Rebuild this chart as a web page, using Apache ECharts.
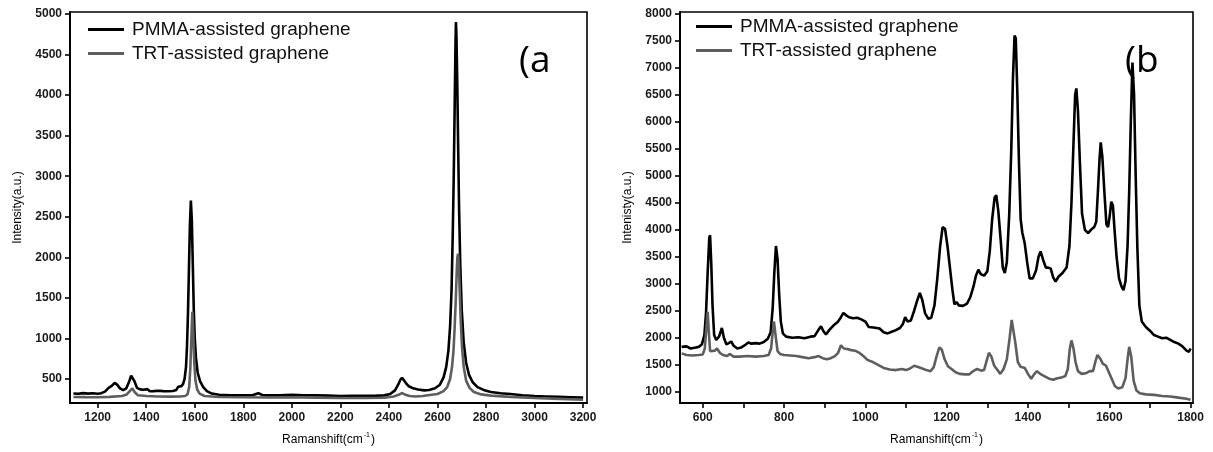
<!DOCTYPE html>
<html>
<head>
<meta charset="utf-8">
<script src="https://cdn.jsdelivr.net/npm/echarts@6/dist/echarts.min.js"></script>
<style>
html,body{margin:0;padding:0;background:#fff;}
#chart{width:1213px;height:452px;}
</style>
</head>
<body>
<div id="chart"></div>
<script>
// ---------- DATA ----------
const seriesNames = ['PMMA-assisted graphene', 'TRT-assisted graphene'];
const panelLabels = ['(a', '(b'];
const xTicksA = [1200, 1400, 1600, 1800, 2000, 2200, 2400, 2600, 2800, 3000, 3200];
const yTicksA = [500, 1000, 1500, 2000, 2500, 3000, 3500, 4000, 4500, 5000];
const xTicksB = [600, 700, 800, 900, 1000, 1100, 1200, 1300, 1400, 1500, 1600, 1700, 1800];
const xLabelsB = [600, 800, 1000, 1200, 1400, 1600, 1800];
const yTicksB = [1000, 1500, 2000, 2500, 3000, 3500, 4000, 4500, 5000, 5500, 6000, 6500, 7000, 7500, 8000];

// Panel (a): PMMA (black)
const pmmaA = [
[1100,322],[1120,318],[1140,326],[1160,320],[1180,324],[1200,318],[1215,325],[1230,345],[1245,390],[1258,415],
[1270,452],[1280,430],[1292,385],[1305,362],[1318,385],[1330,470],[1338,540],[1344,548],[1352,470],[1362,390],
[1375,372],[1390,368],[1405,375],[1415,348],[1430,350],[1450,355],[1470,350],[1490,348],[1510,352],[1524,365],
[1532,405],[1545,412],[1552,440],[1558,500],[1564,650],[1568,900],[1572,1300],[1576,1850],[1580,2400],[1584,2700],
[1588,2450],[1592,1900],[1596,1350],[1600,1000],[1605,760],[1612,580],[1622,470],[1635,400],[1650,350],[1670,320],
[1700,305],[1750,300],[1800,298],[1840,302],[1862,325],[1878,303],[1900,298],[1950,300],[2000,305],[2050,300],
[2100,298],[2150,295],[2200,290],[2250,294],[2300,292],[2350,295],[2380,298],[2405,315],[2425,360],[2438,430],
[2447,490],[2454,516],[2460,500],[2470,450],[2482,410],[2500,385],[2520,370],[2545,360],[2565,365],[2590,385],
[2610,430],[2625,520],[2636,650],[2645,850],[2652,1150],[2658,1600],[2663,2300],[2667,3000],[2671,3900],[2674,4600],
[2676,4900],[2678,4750],[2681,4250],[2685,3400],[2689,2600],[2694,1900],[2700,1350],[2708,950],[2718,700],[2730,550],
[2745,460],[2765,400],[2790,365],[2820,340],[2860,325],[2900,315],[2950,300],[3000,290],[3050,285],[3100,280],
[3150,275],[3200,270]
];
// Panel (a): TRT (grey)
const trtA = [
[1100,278],[1150,276],[1200,275],[1250,280],[1300,290],[1320,310],[1335,360],[1343,385],[1352,340],[1365,300],
[1400,290],[1450,285],[1500,282],[1540,285],[1560,290],[1570,310],[1577,400],[1582,650],[1586,1000],[1590,1330],
[1594,1050],[1598,700],[1603,480],[1610,370],[1620,320],[1640,290],[1700,278],[1800,275],[1900,272],[2000,275],
[2100,270],[2200,265],[2300,265],[2380,268],[2420,285],[2440,305],[2453,327],[2465,310],[2485,290],[2510,285],
[2540,290],[2560,300],[2600,315],[2625,350],[2640,400],[2652,500],[2660,650],[2666,850],[2671,1150],[2675,1450],
[2679,1800],[2682,2000],[2685,2045],[2688,1900],[2692,1550],[2696,1200],[2701,900],[2708,650],[2718,480],[2732,390],
[2750,340],[2780,310],[2820,295],[2900,280],[3000,265],[3100,255],[3200,245]
];

// Panel (b): PMMA (black)
const pmmaB = [
[548,1830],[560,1840],[570,1800],[580,1815],[590,1830],[598,1880],[604,2050],[608,2450],[612,3200],[616,3850],
[618,3900],[621,3350],[624,2600],[628,2050],[633,1960],[640,2020],[647,2180],[652,2000],[658,1880],[664,1900],
[670,1930],[676,1850],[685,1800],[695,1820],[705,1870],[712,1910],[720,1890],[730,1900],[740,1890],[750,1920],
[760,1980],[767,2100],[772,2550],[776,3200],[780,3700],[784,3450],[788,2800],[792,2300],[797,2080],[805,2020],
[820,2000],[835,2010],[850,1990],[865,2020],[875,2030],[885,2150],[891,2210],[897,2120],[903,2060],[912,2150],
[922,2230],[932,2290],[940,2380],[946,2460],[952,2420],[960,2380],[970,2360],[980,2370],[990,2340],[1000,2300],
[1008,2200],[1020,2190],[1035,2170],[1045,2100],[1055,2080],[1065,2110],[1075,2140],[1085,2180],[1092,2250],[1098,2380],
[1104,2300],[1112,2320],[1120,2500],[1128,2700],[1134,2830],[1140,2700],[1147,2450],[1155,2350],[1162,2370],[1170,2600],
[1177,3100],[1184,3700],[1190,4050],[1196,4020],[1202,3700],[1208,3300],[1214,2900],[1219,2620],[1224,2660],[1230,2600],
[1240,2590],[1250,2630],[1258,2750],[1266,2950],[1272,3150],[1278,3260],[1284,3180],[1292,3150],[1300,3230],[1306,3600],
[1312,4200],[1318,4600],[1322,4640],[1327,4350],[1333,3800],[1338,3300],[1343,3200],[1348,3400],[1354,4300],[1359,5500],
[1363,6800],[1367,7600],[1370,7550],[1374,6500],[1378,5200],[1382,4200],[1386,3950],[1392,3750],[1398,3400],[1404,3100],
[1412,3100],[1420,3250],[1426,3500],[1431,3600],[1437,3450],[1444,3300],[1450,3300],[1456,3280],[1462,3120],[1468,3040],
[1475,3130],[1485,3200],[1495,3300],[1502,3700],[1507,4500],[1512,5600],[1516,6500],[1519,6620],[1523,6200],[1528,5200],
[1533,4300],[1540,4000],[1548,3940],[1555,4000],[1563,4050],[1568,4150],[1572,4700],[1576,5300],[1579,5620],[1583,5350],
[1588,4700],[1593,4100],[1597,4050],[1601,4250],[1605,4520],[1609,4450],[1613,4000],[1618,3500],[1624,3100],[1630,2950],
[1635,2880],[1640,3050],[1645,3700],[1649,4700],[1653,6000],[1657,7100],[1661,6500],[1665,5000],[1669,3700],[1674,2600],
[1680,2300],[1690,2200],[1700,2130],[1710,2050],[1720,2020],[1730,1990],[1740,2000],[1750,1960],[1760,1920],[1770,1890],
[1780,1840],[1790,1760],[1796,1740],[1800,1800]
];
// Panel (b): TRT (grey)
const trtB = [
[548,1710],[560,1680],[575,1670],[590,1680],[600,1690],[605,1800],[609,2200],[612,2480],[615,2100],[618,1750],
[622,1720],[630,1760],[635,1800],[642,1720],[650,1680],[660,1660],[667,1700],[675,1650],[690,1650],[710,1660],
[730,1650],[750,1660],[762,1680],[768,1800],[772,2100],[775,2300],[779,2050],[784,1750],[790,1700],[800,1680],
[815,1670],[830,1660],[845,1640],[860,1620],[875,1640],[885,1660],[895,1620],[905,1600],[915,1620],[925,1660],
[933,1720],[940,1860],[947,1800],[955,1790],[965,1770],[975,1760],[985,1720],[995,1660],[1005,1590],[1015,1560],
[1030,1500],[1045,1440],[1060,1410],[1075,1400],[1090,1420],[1100,1400],[1110,1430],[1120,1480],[1128,1460],[1140,1430],
[1150,1400],[1160,1380],[1168,1450],[1175,1650],[1182,1820],[1188,1780],[1195,1600],[1203,1470],[1212,1420],[1222,1360],
[1232,1330],[1245,1320],[1255,1320],[1265,1380],[1275,1420],[1285,1390],[1292,1400],[1298,1560],[1304,1720],[1310,1650],
[1317,1480],[1325,1400],[1332,1330],[1340,1420],[1348,1600],[1355,2000],[1360,2330],[1364,2300],[1369,1900],[1375,1550],
[1382,1460],[1392,1440],[1400,1330],[1408,1240],[1415,1320],[1422,1380],[1430,1330],[1440,1290],[1452,1240],[1462,1220],
[1472,1250],[1482,1260],[1492,1290],[1498,1420],[1503,1800],[1507,1950],[1512,1800],[1517,1550],[1523,1380],[1532,1330],
[1542,1340],[1552,1380],[1560,1380],[1566,1560],[1571,1680],[1577,1620],[1584,1520],[1592,1480],[1599,1360],[1606,1240],
[1614,1100],[1622,1060],[1632,1080],[1640,1250],[1645,1600],[1649,1830],[1654,1650],[1660,1200],[1667,1020],[1675,970],
[1690,950],[1710,940],[1730,920],[1750,910],[1770,890],[1790,870],[1800,850]
];

// ---------- CHART ----------
const FONT = '"Liberation Sans", Arial, sans-serif';
const BLACK = '#000000';
const GREY = '#5e5e5e';

const chart = echarts.init(document.getElementById('chart'), null, {renderer: 'canvas'});

function xAxisCfg(gridIndex, min, max, ticks, labels) {
  return {
    type: 'value', gridIndex, min, max,
    name: '{n|Ramanshift(cm}{s|-1}{n|)}',
    nameLocation: 'middle', nameGap: 29,
    nameTextStyle: {
      rich: {
        n: {fontSize: 12, fontFamily: FONT, color: '#000'},
        s: {fontSize: 7, fontFamily: FONT, color: '#000', padding: [0, 1, 8, 1]}
      }
    },
    axisLine: {show: true, onZero: false, lineStyle: {color: '#000', width: 2}},
    axisTick: {show: true, inside: false, length: 5, lineStyle: {color: '#000', width: 1.6}, customValues: ticks},
    axisLabel: {show: true, margin: 9, fontSize: 12, fontWeight: 'bold', fontFamily: FONT, color: '#1a1a1a', customValues: labels,
      formatter: v => String(v)},
    splitLine: {show: false}
  };
}
function yAxisCfg(gridIndex, min, max, ticks, title) {
  return {
    type: 'value', gridIndex, min, max,
    name: title, nameLocation: 'middle', nameGap: 46, nameRotate: 90,
    nameTextStyle: {fontSize: 12, fontFamily: FONT, color: '#000'},
    axisLine: {show: true, onZero: false, lineStyle: {color: '#000', width: 2}},
    axisTick: {show: true, inside: false, length: 5, lineStyle: {color: '#000', width: 1.6}, customValues: ticks},
    axisLabel: {show: true, margin: 8, fontSize: 12, fontWeight: 'bold', fontFamily: FONT, color: '#1a1a1a', customValues: ticks,
      formatter: v => String(v)},
    splitLine: {show: false}
  };
}
function lineSeries(name, data, idx, color, z) {
  return {
    name, type: 'line', data, xAxisIndex: idx, yAxisIndex: idx,
    showSymbol: false, symbol: 'none', smooth: false, animation: false, z,
    lineStyle: {color, width: 2.6}, itemStyle: {color}
  };
}
function legendCfg(left, top) {
  return {
    data: seriesNames.map(n => ({name: n, icon: 'rect'})),
    orient: 'vertical', left, top, padding: 0,
    itemWidth: 36, itemHeight: 3, itemGap: 5, selectedMode: false,
    textStyle: {fontSize: 19, fontFamily: FONT, color: '#111', padding: [0, 0, 0, 3]}
  };
}

chart.setOption({
  animation: false,
  backgroundColor: '#ffffff',
  grid: [
    {left: 70, top: 12, width: 517, height: 391, show: true, borderColor: '#000', borderWidth: 1.6, containLabel: false, outerBoundsMode: 'none'},
    {left: 680, top: 12, width: 513, height: 391, show: true, borderColor: '#000', borderWidth: 1.6, containLabel: false, outerBoundsMode: 'none'}
  ],
  xAxis: [
    xAxisCfg(0, 1086, 3216, xTicksA, xTicksA),
    xAxisCfg(1, 544, 1806, xTicksB, xLabelsB)
  ],
  yAxis: [
    yAxisCfg(0, 204, 5025, yTicksA, 'Intensity(a.u.)'),
    yAxisCfg(1, 790, 8037, yTicksB, 'Intenisty(a.u.)')
  ],
  legend: [legendCfg(88, 20), legendCfg(696, 17)],
  series: [
    lineSeries(seriesNames[0], pmmaA, 0, BLACK, 2),
    lineSeries(seriesNames[1], trtA, 0, GREY, 3),
    lineSeries(seriesNames[0], pmmaB, 1, BLACK, 2),
    lineSeries(seriesNames[1], trtB, 1, GREY, 3)
  ],
  graphic: [
    {type: 'text', x: 519, y: 61, z: 10, style: {text: panelLabels[0], font: '37px "Open Sans", "Noto Sans", sans-serif', fill: '#000', verticalAlign: 'middle'}},
    {type: 'text', x: 1125, y: 61, z: 10, style: {text: panelLabels[1], font: '37px "Open Sans", "Noto Sans", sans-serif', fill: '#000', verticalAlign: 'middle'}}
  ]
});
</script>
</body>
</html>
